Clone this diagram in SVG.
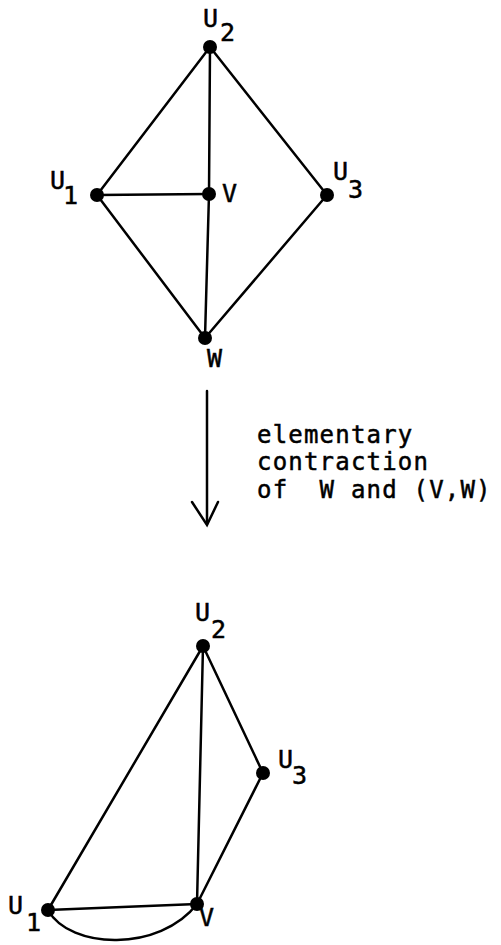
<svg xmlns="http://www.w3.org/2000/svg" width="501" height="945" viewBox="0 0 501 945">
<style>
.e{stroke:#000;stroke-width:2.5;fill:none;stroke-linecap:round}
.d{fill:#000}
.l{font-family:"DejaVu Sans Mono","Liberation Mono",monospace;font-size:25px;fill:#000;stroke:#000;stroke-width:0.5}
.t{font-family:"DejaVu Sans Mono","Liberation Mono",monospace;font-size:24px;letter-spacing:1.2px;fill:#000;stroke:#000;stroke-width:0.5}
</style>
<rect width="501" height="945" fill="#fff"/>
<g id="connectors">
<line class="e" x1="210" y1="47" x2="97" y2="195"/>
<line class="e" x1="210" y1="47" x2="327" y2="195"/>
<line class="e" x1="210" y1="47" x2="209" y2="194"/>
<line class="e" x1="209" y1="194" x2="205" y2="338"/>
<line class="e" x1="97" y1="195" x2="209" y2="194"/>
<line class="e" x1="97" y1="195" x2="205" y2="338"/>
<line class="e" x1="327" y1="195" x2="205" y2="338"/>
<line class="e" x1="207" y1="391" x2="207" y2="524"/>
<polyline class="e" points="192,502 207,525 218,502"/>
<line class="e" x1="203" y1="646" x2="48" y2="910"/>
<line class="e" x1="203" y1="646" x2="197" y2="904"/>
<line class="e" x1="203" y1="646" x2="263" y2="773"/>
<line class="e" x1="263" y1="773" x2="197" y2="904"/>
<line class="e" x1="48" y1="910" x2="197" y2="904"/>
<path class="e" d="M48,910 C70,950 160,952 197,904"/>
</g>
<g id="U2top"><circle class="d" cx="210" cy="47" r="7"/><text class="l" x="203" y="27">U</text><text class="l" x="220" y="41">2</text></g>
<g id="U1top"><circle class="d" cx="97" cy="195" r="7"/><text class="l" x="50" y="189">U</text><text class="l" x="63" y="204">1</text></g>
<g id="Vtop"><circle class="d" cx="209" cy="194" r="7"/><text class="l" x="222" y="202">V</text></g>
<g id="U3top"><circle class="d" cx="327" cy="195" r="7"/><text class="l" x="333" y="180">U</text><text class="l" x="348" y="198">3</text></g>
<g id="Wtop"><circle class="d" cx="205" cy="338" r="7"/><text class="l" x="207" y="367">W</text></g>
<g id="caption">
<text class="t" x="257" y="443">elementary</text>
<text class="t" x="257" y="470">contraction</text>
<text class="t" x="257" y="498" xml:space="preserve">of  W and (V,W)</text>
</g>
<g id="U2bot"><circle class="d" cx="203" cy="646" r="7"/><text class="l" x="195" y="621">U</text><text class="l" x="211" y="638">2</text></g>
<g id="U3bot"><circle class="d" cx="263" cy="773" r="7"/><text class="l" x="278" y="768">U</text><text class="l" x="292" y="784">3</text></g>
<g id="U1bot"><circle class="d" cx="48" cy="910" r="7"/><text class="l" x="8" y="914">U</text><text class="l" x="26" y="931">1</text></g>
<g id="Vbot"><circle class="d" cx="197" cy="904" r="7"/><text class="l" x="199" y="926">V</text></g>
</svg>
